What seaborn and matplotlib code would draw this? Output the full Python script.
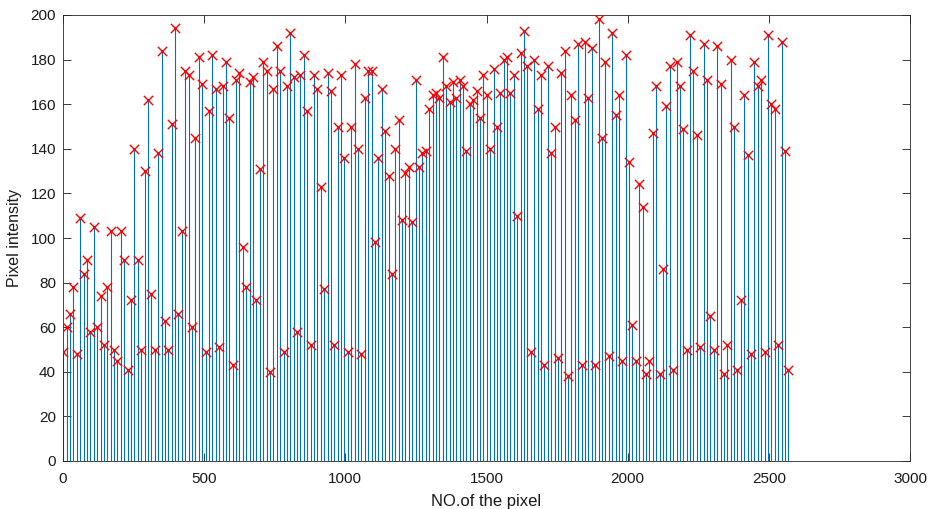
import numpy as np
import pandas as pd
import matplotlib
matplotlib.use("Agg")
import matplotlib.pyplot as plt
import seaborn as sns

# ---- data ----
pixel_start = 1
pixel_step = 12
intensity = [
    49, 60, 66, 78, 48, 109, 84, 90, 58, 105, 60, 74, 52, 78, 103, 50, 45, 103, 90, 41,
    72, 140, 90, 50, 130, 162, 75, 50, 138, 184, 63, 50, 151, 194, 66, 103, 175,
    173, 60, 145, 181, 169, 49, 157, 182, 167, 51, 168, 179, 154, 43, 171, 174, 96, 78,
    170, 172, 72, 131, 179, 175, 40, 167, 186, 175, 49, 168, 192, 172, 58, 173, 182, 157, 52,
    173, 167, 123, 77, 174, 166, 52, 150, 173, 136, 49, 150, 178, 140, 48, 163, 175, 175,
    98, 136, 167, 148, 128, 84, 140, 153, 108, 129, 132, 107, 171, 132, 138, 139, 158, 164, 165,
    163, 181, 168, 161, 170, 163, 171, 168, 139, 160, 162, 166, 154, 173, 164, 140, 176, 150,
    165, 180, 181, 165, 173, 110, 183, 193, 177, 49, 180, 158, 173, 43, 177, 138, 150, 46,
    174, 184, 38, 164, 153, 187, 43, 188, 163, 185, 43, 198, 145, 179, 47, 192, 155, 164,
    45, 182, 134, 61, 45, 124, 114, 39, 45, 147, 168, 39, 86, 159, 177, 41, 179, 168,
    149, 50, 191, 175, 146, 51, 187, 171, 65, 50, 186, 169, 39, 52, 180, 150, 41, 72,
    164, 137, 48, 179, 168, 171, 49, 191, 160, 158, 52, 188, 139, 41,
]
x_ticks = [0, 500, 1000, 1500, 2000, 2500, 3000]
y_ticks = [0, 20, 40, 60, 80, 100, 120, 140, 160, 180, 200]
x_label = "NO.of the pixel"
y_label = "Pixel intensity"

pixel = pixel_start + pixel_step * np.arange(len(intensity))
df = pd.DataFrame({"pixel": pixel, "intensity": intensity})

sns.set_style("ticks")
plt.rcParams["font.family"] = ["Liberation Sans", "DejaVu Sans"]

fig = plt.figure(figsize=(9.3, 5.09), dpi=100)
ax = fig.add_axes([63 / 930, 48 / 509, 847 / 930, 446 / 509])

ax.vlines(df["pixel"], 0, df["intensity"], color="#0072BD", lw=0.8, zorder=2)
sns.scatterplot(data=df, x="pixel", y="intensity", marker="x", color="red",
                s=45, linewidth=1.0, ax=ax, zorder=3, legend=False)

ax.set_xlim(0, 3000)
ax.set_ylim(0, 200)
ax.set_xticks(x_ticks)
ax.set_yticks(y_ticks)
ax.tick_params(direction="in", top=True, right=True, length=6, width=0.6,
               colors="#1a1a1a", labelsize=11)
ax.tick_params(axis="x", pad=8)
ax.tick_params(axis="y", pad=5)
for s in ax.spines.values():
    s.set_visible(True)
    s.set_linewidth(0.6)
    s.set_color("#262626")
ax.set_xlabel(x_label, fontsize=12, color="#1a1a1a", labelpad=6)
ax.set_ylabel(y_label, fontsize=11.5, color="#1a1a1a", labelpad=6)

fig.savefig("out.png", dpi=100)
